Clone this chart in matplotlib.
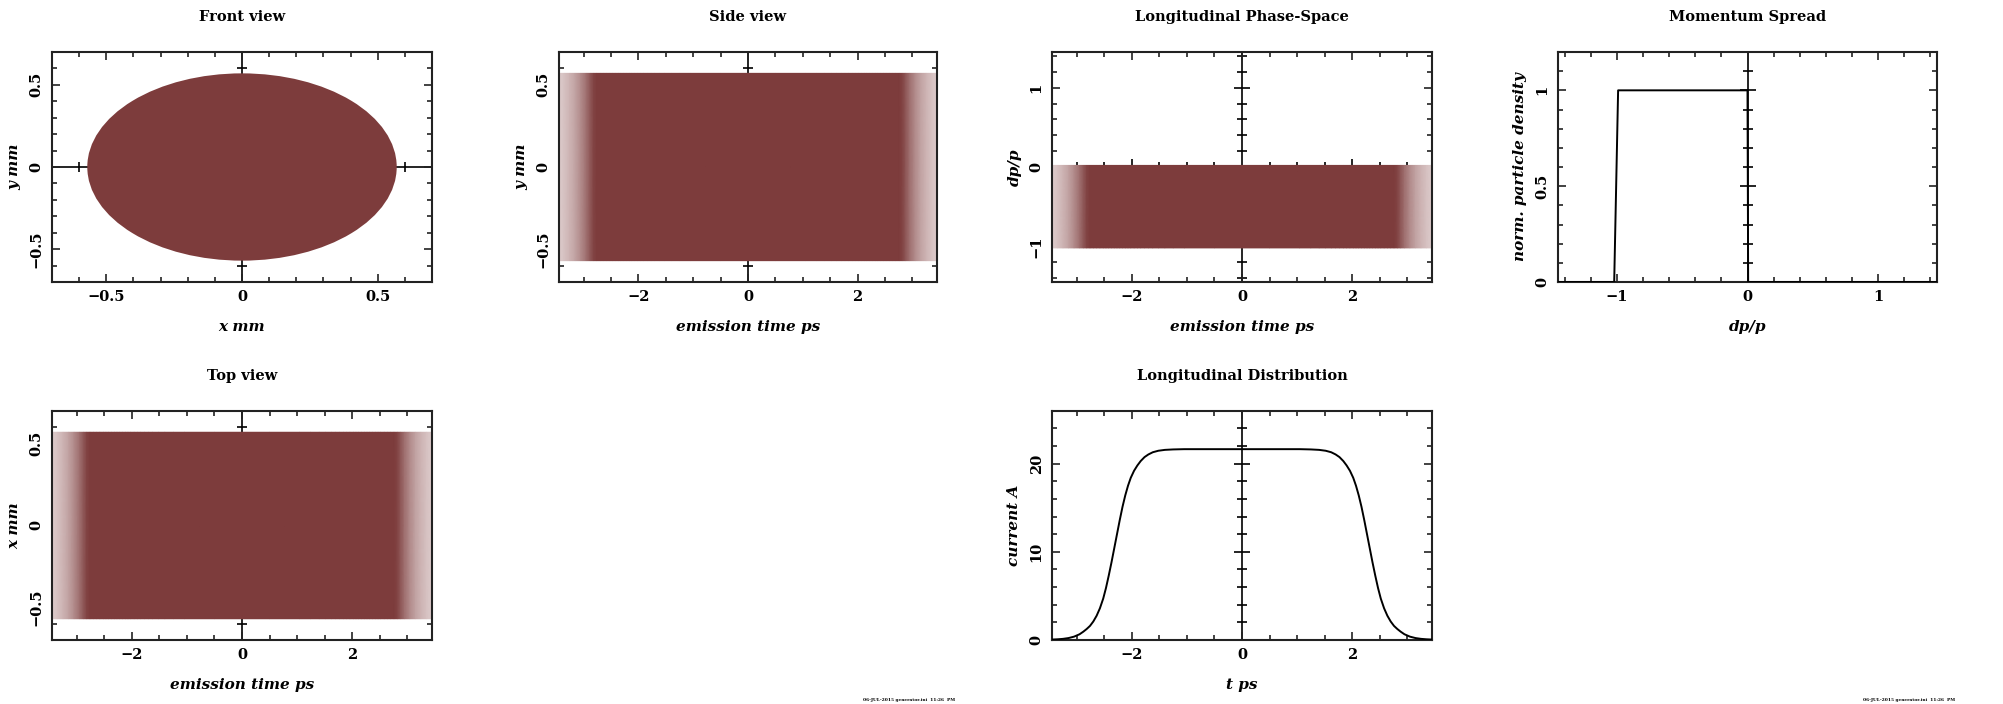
import numpy as np
import matplotlib
matplotlib.use('Agg')
import matplotlib.pyplot as plt
from matplotlib.ticker import MultipleLocator, FuncFormatter
from matplotlib.colors import LinearSegmentedColormap
from matplotlib.patches import Circle

plt.rcParams['font.family'] = ['DejaVu Serif']
plt.rcParams['font.weight'] = 'bold'

# beam data
beam_radius = 0.57            # mm, uniform round spot
dp_band = [-1.02, 0.02]       # dp/p extent of the particles

# longitudinal current profile (flat top with smooth edges)
t_ps = [-3.45, -3.35, -3.25, -3.15, -3.05, -2.95, -2.88, -2.82, -2.76, -2.70, -2.64, -2.58,
        -2.52, -2.47, -2.42, -2.37, -2.32, -2.27, -2.22, -2.17, -2.12, -2.07, -2.02, -1.96,
        -1.90, -1.84, -1.77, -1.70, -1.62, -1.52, -1.40, -1.25, -1.05, -0.5, 0.0,
        0.5, 1.05, 1.25, 1.40, 1.52, 1.62, 1.70, 1.77, 1.84, 1.90,
        1.96, 2.02, 2.07, 2.12, 2.17, 2.22, 2.27, 2.32, 2.37, 2.42, 2.47, 2.52,
        2.58, 2.64, 2.70, 2.76, 2.82, 2.88, 2.95, 3.05, 3.15, 3.25, 3.35, 3.45]
current_A = [0.05, 0.08, 0.13, 0.22, 0.38, 0.65, 0.95, 1.25, 1.6, 2.1, 2.75, 3.6,
             4.7, 5.9, 7.3, 8.8, 10.4, 12.0, 13.6, 15.1, 16.4, 17.5, 18.4, 19.2,
             19.8, 20.3, 20.75, 21.05, 21.3, 21.47, 21.57, 21.62, 21.65, 21.65, 21.65,
             21.65, 21.65, 21.62, 21.57, 21.47, 21.3, 21.05, 20.75, 20.3, 19.8,
             19.2, 18.4, 17.5, 16.4, 15.1, 13.6, 12.0, 10.4, 8.8, 7.3, 5.9, 4.7,
             3.6, 2.75, 2.1, 1.6, 1.25, 0.95, 0.65, 0.38, 0.22, 0.13, 0.08, 0.05]

# momentum spread histogram
dp_x = [-1.45, -1.02, -0.99, 0.0, 0.005, 1.45]
density_y = [0, 0, 1, 1, 0, 0]

rust = '#7d3c3c'
rust_cmap = LinearSegmentedColormap.from_list('rust', ['white', rust])

W, H = 2003, 704
fig = plt.figure(figsize=(W / 100, H / 100), dpi=100)

cols = [(52, 432), (559, 937), (1052, 1432), (1558, 1937)]
rows = [(52, 282), (411, 640)]


def make_ax(r, c):
    x0, x1 = cols[c]
    y0, y1 = rows[r]
    return fig.add_axes([x0 / W, 1 - y1 / H, (x1 - x0) / W, (y1 - y0) / H])


fmt = FuncFormatter(lambda v, p: ('%g' % v).replace('-', '\u2212'))


def style(ax, xlim, ylim, xmaj, xmin, ymaj, ymin, title, xlabel, ylabel):
    ax.set_xlim(xlim)
    ax.set_ylim(ylim)
    ax.xaxis.set_major_locator(MultipleLocator(xmaj))
    ax.xaxis.set_minor_locator(MultipleLocator(xmin))
    ax.yaxis.set_major_locator(MultipleLocator(ymaj))
    ax.yaxis.set_minor_locator(MultipleLocator(ymin))
    ax.xaxis.set_major_formatter(fmt)
    ax.yaxis.set_major_formatter(fmt)
    ax.tick_params(which='both', direction='in', top=True, right=True, width=1.2,
                   color='#222222', labelsize=10.5, pad=6)
    ax.tick_params(which='major', length=6)
    ax.tick_params(which='minor', length=3.5)
    ax.tick_params(axis='y', labelrotation=90)
    for lab in ax.get_yticklabels():
        lab.set_va('center')
    for s in ax.spines.values():
        s.set_linewidth(1.5)
        s.set_color('#222222')
    ax.set_title(title, pad=22, fontsize=10.5, fontweight='bold')
    ax.set_xlabel(xlabel, fontsize=11, style='italic', fontweight='bold', labelpad=11)
    ax.set_ylabel(ylabel, fontsize=11, style='italic', fontweight='bold', labelpad=6)

    # PGPLOT-like zero axes with crossing ticks
    if xlim[0] < 0 < xlim[1]:
        ax.axvline(0, color='k', lw=1.2, zorder=1)
        yt = [v for v in ax.yaxis.get_majorticklocs() if ylim[0] < v < ylim[1] and v != 0]
        ym = [v for v in ax.yaxis.get_minorticklocs() if ylim[0] < v < ylim[1] and v != 0]
        ax.plot([0] * len(yt), yt, ls='none', marker='_', ms=12, mew=1.2, color='k', zorder=1)
        ax.plot([0] * len(ym), ym, ls='none', marker='_', ms=6.5, mew=1.2, color='k', zorder=1)
    if ylim[0] < 0 < ylim[1]:
        ax.axhline(0, color='k', lw=1.2, zorder=1)
        xt = [v for v in ax.xaxis.get_majorticklocs() if xlim[0] < v < xlim[1] and v != 0]
        xm = [v for v in ax.xaxis.get_minorticklocs() if xlim[0] < v < xlim[1] and v != 0]
        ax.plot(xt, [0] * len(xt), ls='none', marker='|', ms=12, mew=1.2, color='k', zorder=1)
        ax.plot(xm, [0] * len(xm), ls='none', marker='|', ms=6.5, mew=1.2, color='k', zorder=1)


t = np.array(t_ps)
cur = np.array(current_A)
# particle density along t follows the current profile
fade = np.clip((cur / cur.max()) ** 0.4 * 3.0, 0, 1)


def bunch(ax, ylo, yhi):
    T, Y = np.meshgrid(t, [ylo, yhi])
    ax.pcolormesh(T, Y, np.vstack([fade, fade]), shading='gouraud', cmap=rust_cmap,
                  vmin=0, vmax=1, zorder=2, antialiased=False)


# Front view
ax = make_ax(0, 0)
ax.add_patch(Circle((0, 0), beam_radius, color=rust, zorder=2, lw=0))
style(ax, (-0.7, 0.7), (-0.7, 0.7), 0.5, 0.1, 0.5, 0.1, 'Front view', 'x mm', 'y mm')

# Side view
ax = make_ax(0, 1)
bunch(ax, -beam_radius, beam_radius)
style(ax, (-3.45, 3.45), (-0.7, 0.7), 2, 0.5, 0.5, 0.1, 'Side view', 'emission time ps', 'y mm')

# Longitudinal phase space
ax = make_ax(0, 2)
bunch(ax, dp_band[0], dp_band[1])
style(ax, (-3.45, 3.45), (-1.45, 1.45), 2, 0.5, 1, 0.2, 'Longitudinal Phase-Space',
      'emission time ps', 'dp/p')

# Momentum spread
ax = make_ax(0, 3)
ax.plot(dp_x, density_y, color='k', lw=1.4, zorder=3)
style(ax, (-1.45, 1.45), (0, 1.2), 1, 0.2, 0.5, 0.1, 'Momentum Spread', 'dp/p',
      'norm. particle density')

# Top view
ax = make_ax(1, 0)
bunch(ax, -beam_radius, beam_radius)
style(ax, (-3.45, 3.45), (-0.7, 0.7), 2, 0.5, 0.5, 0.1, 'Top view', 'emission time ps', 'x mm')

# Longitudinal distribution
ax = make_ax(1, 2)
ax.plot(t, cur, color='k', lw=1.4, zorder=3)
style(ax, (-3.45, 3.45), (0, 1.2 * cur.max()), 2, 0.5, 10, 2, 'Longitudinal Distribution',
      't ps', 'current A')

# plot stamps
for xs in (863, 1863):
    fig.text(xs / W, 1 - 700 / H, '06-JUL-2015 generator.ini  11:26  PM', fontsize=3.2,
             fontweight='bold', va='center', ha='left')

fig.savefig('out.png', dpi=100)
